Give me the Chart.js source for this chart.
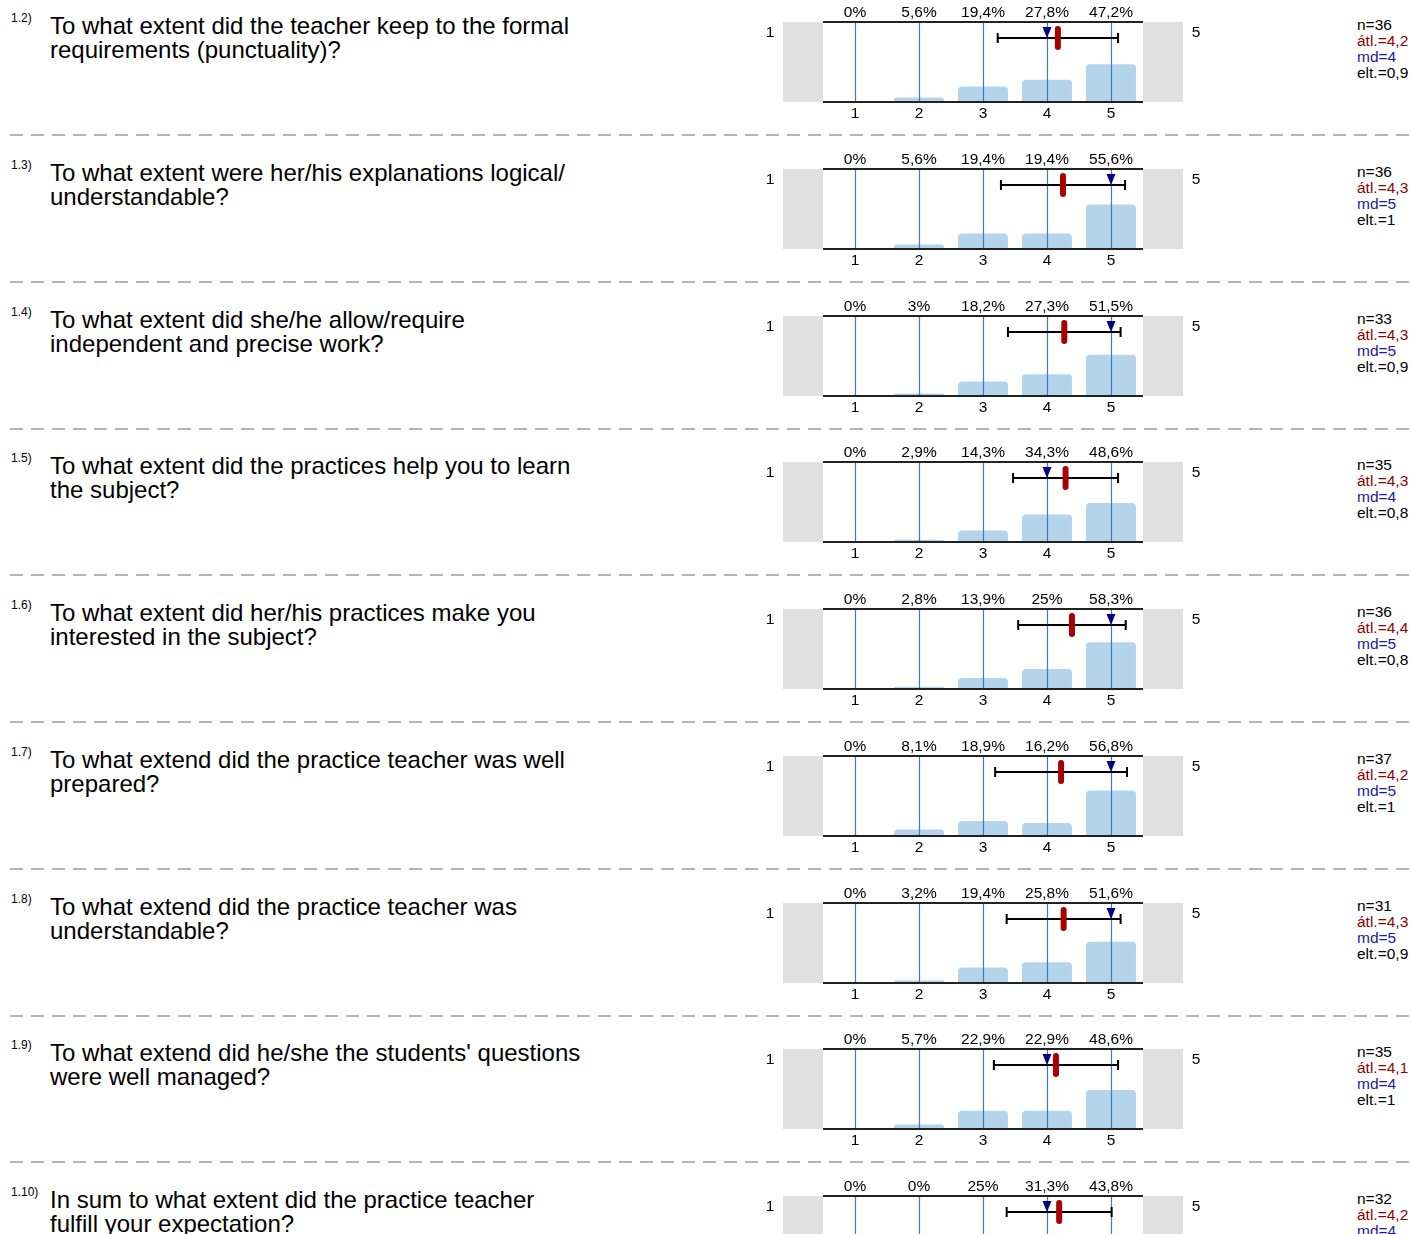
<!DOCTYPE html>
<html>
<head>
<meta charset="utf-8">
<title>Evaluation</title>
<script src="https://cdn.jsdelivr.net/npm/chart.js@4.4.1/dist/chart.umd.min.js"></script>
<style>
  html, body { margin: 0; padding: 0; background: #fff; width: 1412px; height: 1234px; overflow: hidden; }
  body { position: relative; font-family: "Liberation Sans", Arial, sans-serif; color: #000; }
  .row { position: absolute; left: 0; width: 1412px; height: 147px; }
  .qid { position: absolute; left: 11px; top: 11px; font-size: 12px; }
  .qtext { position: absolute; left: 50px; top: 14px; font-size: 24px; line-height: 24px; white-space: nowrap; }
  .row canvas { position: absolute; left: 760px; top: 0; }
  .stats { position: absolute; left: 1357px; top: 17px; font-size: 15.5px; line-height: 16px; white-space: nowrap; }
  .sep { position: absolute; left: 10px; width: 1402px; top: 134px; height: 2px;
         background: repeating-linear-gradient(to right, #b4b4b4 0 13px, transparent 13px 21px); }
</style>
</head>
<body>
<div id="page"></div>
<script>
// Question ids and texts (two lines each, as in the report)
const questionIds = ['1.2)', '1.3)', '1.4)', '1.5)', '1.6)', '1.7)', '1.8)', '1.9)', '1.10)'];
const questionLines = [
    ['To what extent did the teacher keep to the formal', 'requirements (punctuality)?'],
    ['To what extent were her/his explanations logical/', 'understandable?'],
    ['To what extent did she/he allow/require', 'independent and precise work?'],
    ['To what extent did the practices help you to learn', 'the subject?'],
    ['To what extent did her/his practices make you', 'interested in the subject?'],
    ['To what extend did the practice teacher was well', 'prepared?'],
    ['To what extend did the practice teacher was', 'understandable?'],
    ['To what extend did he/she the students\' questions', 'were well managed?'],
    ['In sum to what extent did the practice teacher', 'fulfill your expectation?']
];

// Answer scale
const categories = ['1', '2', '3', '4', '5'];

// Share of answers per scale value (%)
const percents = [
    [0, 5.6, 19.4, 27.8, 47.2],
    [0, 5.6, 19.4, 19.4, 55.6],
    [0, 3, 18.2, 27.3, 51.5],
    [0, 2.9, 14.3, 34.3, 48.6],
    [0, 2.8, 13.9, 25, 58.3],
    [0, 8.1, 18.9, 16.2, 56.8],
    [0, 3.2, 19.4, 25.8, 51.6],
    [0, 5.7, 22.9, 22.9, 48.6],
    [0, 0, 25, 31.3, 43.8]
];

// Summary statistics
const counts = [36, 36, 33, 35, 36, 37, 31, 35, 32];
const means = [4.17, 4.25, 4.27, 4.29, 4.39, 4.22, 4.26, 4.14, 4.19];
const medians = [4, 5, 5, 4, 5, 5, 5, 4, 4];
const stdDevs = [0.94, 0.97, 0.88, 0.82, 0.84, 1.03, 0.89, 0.97, 0.82];

const ROW_PITCH = 146.75;
const FONT = '"Liberation Sans", Arial, sans-serif';

Chart.defaults.font.family = FONT;
Chart.defaults.color = '#000';

function fmtNum(v) {
    let s = v.toFixed(1);
    if (s.endsWith('.0')) s = s.slice(0, -2);
    return s.replace('.', ',');
}

function fmtPct(v) {
    return String(v).replace('.', ',') + '%';
}

// Draws grey side boxes, grid lines, labels, spread bar, mean and median
const decorPlugin = {
    id: 'decor',
    beforeDatasetsDraw(chart) {
        const { ctx, chartArea: a } = chart;
        ctx.save();
        ctx.fillStyle = '#e0e0e0';
        ctx.fillRect(a.left - 40, a.top, 40, a.bottom - a.top);
        ctx.fillRect(a.right, a.top, 40, a.bottom - a.top);
        ctx.fillStyle = '#000';
        ctx.font = '15.5px ' + FONT;
        ctx.textAlign = 'center';
        ctx.textBaseline = 'middle';
        ctx.fillText('1', a.left - 53, a.top + 11);
        ctx.fillText('5', a.right + 53, a.top + 11);
        ctx.restore();
    },
    afterDatasetsDraw(chart) {
        const { ctx, chartArea: a, scales } = chart;
        const x = scales.x;
        const i = chart.options.plugins.decor.row;
        ctx.save();
        // vertical lines at each answer value
        ctx.strokeStyle = '#3f78c4';
        ctx.lineWidth = 1.2;
        categories.forEach((c, k) => {
            const px = Math.round(x.getPixelForValue(k)) + 0.5;
            ctx.beginPath();
            ctx.moveTo(px, a.top);
            ctx.lineTo(px, a.bottom);
            ctx.stroke();
        });
        // top and bottom frame lines
        ctx.strokeStyle = '#222';
        ctx.lineWidth = 2;
        ctx.beginPath();
        ctx.moveTo(a.left, a.top);
        ctx.lineTo(a.right, a.top);
        ctx.moveTo(a.left, a.bottom);
        ctx.lineTo(a.right, a.bottom);
        ctx.stroke();
        // percentage labels
        ctx.fillStyle = '#000';
        ctx.font = '15.5px ' + FONT;
        ctx.textAlign = 'center';
        ctx.textBaseline = 'middle';
        percents[i].forEach((p, k) => {
            ctx.fillText(fmtPct(p), x.getPixelForValue(k), a.top - 9);
        });
        // mean +- sd bar
        const y = a.top + 16;
        const x0 = x.getPixelForValue(means[i] - stdDevs[i] - 1);
        const x1 = x.getPixelForValue(means[i] + stdDevs[i] - 1);
        ctx.strokeStyle = '#000';
        ctx.lineWidth = 2;
        ctx.beginPath();
        ctx.moveTo(x0, y);
        ctx.lineTo(x1, y);
        ctx.moveTo(x0, y - 5);
        ctx.lineTo(x0, y + 5);
        ctx.moveTo(x1, y - 5);
        ctx.lineTo(x1, y + 5);
        ctx.stroke();
        // median triangle
        const mx = x.getPixelForValue(medians[i] - 1);
        ctx.fillStyle = '#00008b';
        ctx.beginPath();
        ctx.moveTo(mx - 4.5, y - 11);
        ctx.lineTo(mx + 4.5, y - 11);
        ctx.lineTo(mx, y);
        ctx.closePath();
        ctx.fill();
        // mean marker
        const ax = x.getPixelForValue(means[i] - 1);
        ctx.fillStyle = '#a80000';
        ctx.beginPath();
        ctx.roundRect(ax - 3, y - 12, 6, 24, 3);
        ctx.fill();
        ctx.restore();
    }
};

const page = document.getElementById('page');

questionIds.forEach((qid, i) => {
    const row = document.createElement('div');
    row.className = 'row';
    row.style.top = Math.round(i * ROW_PITCH) + 'px';

    const idEl = document.createElement('div');
    idEl.className = 'qid';
    idEl.textContent = qid;
    row.appendChild(idEl);

    const txt = document.createElement('div');
    txt.className = 'qtext';
    txt.innerHTML = questionLines[i].join('<br>');
    row.appendChild(txt);

    const canvas = document.createElement('canvas');
    canvas.width = 460;
    canvas.height = 130;
    row.appendChild(canvas);

    const stats = document.createElement('div');
    stats.className = 'stats';
    stats.innerHTML =
        '<div>n=' + counts[i] + '</div>' +
        '<div style="color:#8f0000">átl.=' + fmtNum(means[i]) + '</div>' +
        '<div style="color:#1a1aa0">md=' + medians[i] + '</div>' +
        '<div>elt.=' + fmtNum(stdDevs[i]) + '</div>';
    row.appendChild(stats);

    if (i < questionIds.length - 1) {
        const sep = document.createElement('div');
        sep.className = 'sep';
        row.appendChild(sep);
    }

    page.appendChild(row);

    new Chart(canvas.getContext('2d'), {
        type: 'bar',
        data: {
            labels: categories,
            datasets: [{
                data: percents[i],
                backgroundColor: '#b4d4ec',
                borderWidth: 0,
                borderRadius: { topLeft: 4, topRight: 4 },
                borderSkipped: 'bottom',
                barPercentage: 0.78,
                categoryPercentage: 1
            }]
        },
        options: {
            responsive: false,
            animation: false,
            devicePixelRatio: 1,
            layout: { padding: { left: 63, right: 77, top: 22, bottom: 0 } },
            plugins: {
                legend: { display: false },
                tooltip: { enabled: false },
                decor: { row: i }
            },
            scales: {
                x: {
                    grid: { display: false, drawTicks: false },
                    border: { display: false },
                    ticks: { font: { size: 15.5 }, color: '#000', padding: 2 },
                    afterFit: (scale) => { scale.height = 28; }
                },
                y: { display: false, min: 0, max: 100 }
            }
        },
        plugins: [decorPlugin]
    });
});
</script>
</body>
</html>
